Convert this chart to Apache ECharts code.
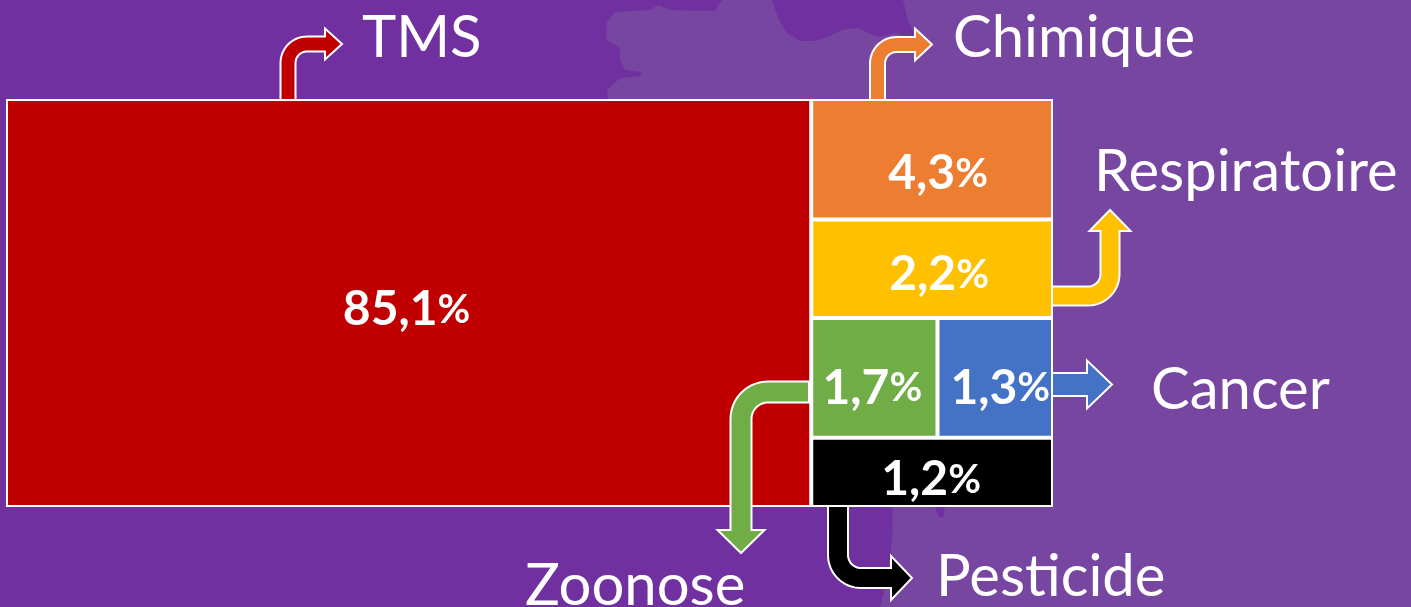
<!DOCTYPE html>
<html><head><meta charset="utf-8">
<style>html,body{margin:0;padding:0;background:#7030A0;overflow:hidden}#c{width:1411px;height:607px}</style>
<script src="https://cdn.jsdelivr.net/npm/echarts@6/dist/echarts.min.js"></script>
</head><body><div id="c"></div>
<script>
// Categories and the percentages printed on the tiles
const categories = ['TMS','Chimique','Respiratoire','Zoonose','Cancer','Pesticide'];
const percents = [85.1,4.3,2.2,1.7,1.3,1.2];
// Tile areas (share of the whole block, the figure is not drawn to scale)
const tileAreas = [76.84,6.82,5.57,3.53,3.23,3.92];
const colors = ['#C00000','#ED7D31','#FFC000','#70AD47','#4472C4','#000000'];

const FONT = 'Lato';
const labelShift = [[-2,180],[6,44],[7,24],[-2,39],[5,39],[-1,11]];
const leaf = i => ({
  name: categories[i], value: tileAreas[i], pct: percents[i],
  label:{offset:labelShift[i]},
  itemStyle: {color: colors[i], borderColor:'#fff', borderWidth:2, gapWidth:0}
});
const noBorder = {borderWidth:0,gapWidth:0};
const treeData = [
  leaf(0),
  {name:'autres', itemStyle:noBorder, children:[
    {name:'haut', itemStyle:noBorder, children:[leaf(1), leaf(2)]},
    {name:'bas', itemStyle:noBorder, children:[
      {name:'ligne', itemStyle:noBorder, children:[leaf(3),leaf(4)]},
      leaf(5)
    ]}
  ]}
];

// Callout arrows (annotations)
function bentArrow(S,C,E,w,r,hl,hw){
  const unit=(a,b)=>{const dx=b[0]-a[0],dy=b[1]-a[1],l=Math.hypot(dx,dy);return [dx/l,dy/l];};
  const d1=unit(S,C),d2=unit(C,E);
  const O=[C[0]-d1[0]*r+d2[0]*r,C[1]-d1[1]*r+d2[1]*r];
  const outer=[],inner=[];
  for(let k=0;k<=16;k++){
    const t=k/16*Math.PI/2,vx=-Math.cos(t)*d2[0]+Math.sin(t)*d1[0],vy=-Math.cos(t)*d2[1]+Math.sin(t)*d1[1];
    outer.push([O[0]+vx*(r+w/2),O[1]+vy*(r+w/2)]);
    inner.push([O[0]+vx*(r-w/2),O[1]+vy*(r-w/2)]);
  }
  const B=[E[0]-d2[0]*hl,E[1]-d2[1]*hl];
  const side=h=>[B[0]+d1[0]*h,B[1]+d1[1]*h], sideN=h=>[B[0]-d1[0]*h,B[1]-d1[1]*h];
  return [[S[0]-d2[0]*w/2,S[1]-d2[1]*w/2],...outer,side(w/2),side(hw/2),E,sideN(hw/2),sideN(w/2),...inner.reverse(),[S[0]+d2[0]*w/2,S[1]+d2[1]*w/2]];
}
function straightArrow(x0,x1,y,w,hl,hw){
  return [[x0,y-w/2],[x1-hl,y-w/2],[x1-hl,y-hw/2],[x1,y],[x1-hl,y+hw/2],[x1-hl,y+w/2],[x0,y+w/2]];
}
const arrows = [
  [colors[0], bentArrow([288,100],[288,44],[342,44],15,19,17,31)],
  [colors[1], bentArrow([877.5,100],[877.5,44.5],[932,44.5],15,19,17,32)],
  [colors[2], bentArrow([1052,296],[1110,296],[1110,210],19,22,21,41)],
  [colors[4], straightArrow(1052,1112,384.5,23,25,48)],
  [colors[3], bentArrow([809,392],[741,392],[741,553],21,27,23,47)],
  [colors[5], bentArrow([838,506],[838,578],[912,578],20,23,21,44)]
];
const names = [
  ['TMS',362,38],['Chimique',953,38],['Respiratoire',1094,172],
  ['Cancer',1151,390],['Zoonose',525,586],['Pesticide',936,577]
];
const landPts = [[608,100],[607,90],[620,78],[640,76],[642,72],[625,70],[620,60],[620,48],[606,40],[607,22],[615,12],[650,10],[658,5],[670,10],[715,11],[722,0],[772,0],[778,18],[786,32],[800,41],[815,41],[830,36],[842,30],[858,28],[870,34],[880,37],[895,33],[905,36],[915,36],[908,20],[903,0],[1411,0],[1411,607],[880,607],[888,575],[892,540],[893,500],[800,300]];
const notchPts = [[935,507],[945,507],[943,518],[938,516]];

const graphics = [
  {type:'polygon',z:1,silent:true,shape:{points:landPts},style:{fill:'#7646A0'}},
  {type:'polygon',z:1,silent:true,shape:{points:notchPts},style:{fill:'#7030A0'}},
  ...arrows.map(([c,p])=>({type:'polygon',z:50,silent:true,shape:{points:p},style:{fill:c,stroke:'#fff',lineWidth:2,lineJoin:'miter'}})),
  ...names.map(([t,x,y])=>({type:'text',z:50,silent:true,x,y,style:{text:t,fill:'#fff',font:'58px '+FONT,verticalAlign:'middle'}}))
];

const chart = echarts.init(document.getElementById('c'),null,{renderer:'canvas'});
chart.setOption({
  animation:false,
  backgroundColor:'#7030A0',
  graphic:{elements:graphics},
  tooltip:{show:false},
  series:[{
    type:'treemap',
    left:6,top:99,width:1047,height:408,
    roam:false,nodeClick:false,sort:false,squareRatio:1.75,
    breadcrumb:{show:false},
    visibleMin:0,
    z:10,
    label:{show:true,position:['50%','50%'],align:'center',verticalAlign:'middle',color:'#fff',
      formatter:p=>`{a|${String(p.data.pct).replace('.',',')}}{b|%}`,
      rich:{a:{fontFamily:FONT,fontWeight:'bold',fontSize:48,color:'#fff'},b:{fontFamily:FONT,fontWeight:'bold',fontSize:40,color:'#fff'}}},
    upperLabel:{show:false},
    itemStyle:{borderWidth:0,gapWidth:0,borderColor:'#fff'},
    emphasis:{disabled:true},
    data:treeData
  }]
});
</script></body></html>
